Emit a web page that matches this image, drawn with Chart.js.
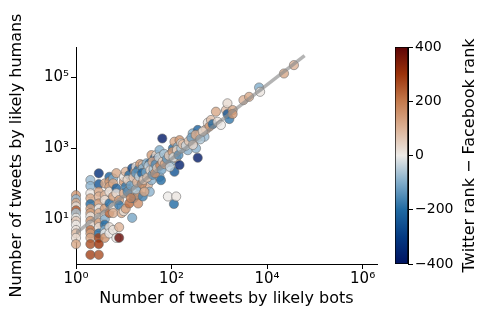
<!DOCTYPE html>
<html>
<head>
<meta charset="utf-8">
<script src="https://cdn.jsdelivr.net/npm/chart.js@4.4.0/dist/chart.umd.min.js"></script>
<style>
  body { margin: 0; background: #fff; }
  #wrap { position: relative; width: 498px; height: 332px; }
  canvas { position: absolute; top: 0; }
</style>
</head>
<body>
<div id="wrap">
  <canvas id="scatterChart" width="498" height="332" style="left:0"></canvas>
  <canvas id="colorbarChart" width="118" height="332" style="left:380px"></canvas>
</div>
<script>
// tweets per account-pair
const botTweets = [
    1, 1, 1, 1, 1, 1, 1, 1, 1, 1,
    1, 1, 1, 2, 2, 2, 2, 2, 2, 2,
    2, 2, 2, 2, 2, 2, 2, 2, 3, 3,
    3, 3, 3, 3, 3, 3, 3, 3, 3, 3,
    3, 3, 4, 4, 4, 4, 4, 4, 4, 4,
    4, 4, 5, 5, 5, 5, 5, 5, 5, 5,
    6, 6, 6, 6, 6, 6, 7, 7, 7, 7,
    8, 8, 8, 8, 9, 10, 10, 10, 10, 11,
    11, 11, 13, 13, 13, 15, 15, 15, 16, 16,
    17, 17, 18, 20, 20, 20, 20, 22, 22, 22,
    23, 25, 25, 25, 28, 28, 30, 32, 32, 35,
    35, 35, 38, 38, 38, 44, 44, 48, 48, 52,
    56, 56, 56, 60, 64, 66, 77, 84, 84, 98,
    98, 107, 112, 115, 115, 125, 125, 125, 135, 147,
    147, 159, 186, 219, 245, 277, 300, 325, 354, 354,
    380, 415, 490, 525, 575, 620, 670, 725, 850, 920,
    1080, 1380, 1480, 1480, 1620, 1900, 1900, 3200, 4200, 6800,
    7150, 22600, 36500, 12, 12, 14, 14, 16, 18, 18,
    19, 21, 24, 24, 26, 27, 29, 31, 33, 36,
    40, 40, 42, 45, 46, 50, 54, 58, 62, 65,
    70, 72, 80, 88, 92, 105, 110, 130, 140, 160,
    170, 200, 230, 260, 280, 320, 400, 450
];
const humanTweets = [
    48, 37, 29, 23, 18, 15, 11, 9, 7, 5,
    4, 3, 2, 128, 87, 54, 39, 27, 20, 15,
    12, 9, 7, 5, 4, 3, 2, 1, 198, 98,
    60, 44, 28, 20, 15, 11, 8, 6, 4, 3,
    2, 1, 103, 48, 35, 20, 13, 10, 7, 5,
    4, 3, 158, 115, 83, 60, 28, 15, 6, 4,
    142, 103, 44, 22, 15, 5, 200, 75, 54, 3,
    35, 25, 6, 3, 15, 115, 158, 54, 17, 219,
    83, 20, 177, 67, 28, 275, 127, 11, 54, 39,
    219, 103, 302, 177, 48, 28, 245, 360, 127, 83,
    245, 340, 44, 275, 158, 75, 380, 275, 93, 200,
    60, 380, 645, 340, 127, 525, 302, 645, 465, 380,
    465, 890, 158, 127, 1900, 645, 575, 415, 44, 725,
    420, 1000, 27, 1540, 219, 725, 44, 520, 1110, 1700,
    340, 1380, 1110, 890, 1380, 2650, 1700, 1000, 3300, 543,
    2130, 2650, 2130, 3430, 5300, 4100, 6300, 4800, 10800, 5600,
    4570, 12000, 18600, 9300, 6700, 12000, 9300, 22900, 28300, 52000,
    39300, 129000, 222000, 60, 130, 90, 40, 150, 70, 200,
    110, 160, 100, 200, 130, 60, 210, 150, 320, 240,
    180, 420, 260, 200, 350, 280, 560, 330, 250, 420,
    700, 360, 500, 620, 300, 800, 560, 900, 650, 1000,
    1300, 1200, 1600, 2000, 1250, 2400, 1800, 3000
];
const rankDiff = [
    150, -80, 120, 20, 250, -60, 10, 60, 0, 20,
    80, 30, 120, -80, -90, 10, 120, -200, 130, 140,
    10, 150, 10, 220, 140, 130, 260, 280, -330, -250,
    130, 100, 150, 0, 120, 20, 140, 30, -200, 280,
    300, 260, 120, 100, 20, 140, 10, -90, -200, -100,
    0, 150, -220, 150, 130, 10, -200, 230, 20, 0,
    -100, 120, 140, 20, 110, 10, 120, -220, 20, 0,
    140, -180, 100, 380, 120, 150, 10, 120, 20, 100,
    -180, 130, -200, 130, 220, -280, 150, -110, 20, -200,
    130, 20, 20, -200, 150, 160, -200, 150, 120, -180,
    -100, 80, -170, -100, 0, 10, -100, 20, 100, 130,
    -90, -200, 140, -350, -90, -200, 100, 30, -360, 10,
    120, -100, -80, -200, -380, 0, 20, -80, 0, 100,
    -90, -200, -200, 120, -250, -60, 10, 100, -100, 150,
    -360, 0, 100, -90, 10, -100, 120, -90, -220, -380,
    150, 20, -80, 100, 20, 150, 80, -200, 120, 20,
    0, 80, 30, -250, -180, 120, 150, 100, 120, -100,
    10, 120, 100, -150, 40, -120, 180, 60, -60, -140,
    90, -40, 170, -220, 50, 120, -110, 70, -40, 30,
    -130, 110, -60, 160, -150, 60, -40, 180, -110, 50,
    -70, 130, -130, 60, -40, 140, -20, 40, -150, -60,
    90, -30, 70, -120, 30, 110, -60, 40
];

// fitted trend line, end points
const fitBots = [1, 61000];
const fitHumans = [4.1, 410000];

const xTickValues = [1, 100, 10000, 1000000];
const yTickValues = [10, 1000, 100000];
const cbTicks = [-400, -200, 0, 200, 400];
const xRange = [1, 2000000];
const yRange = [0.55, 720000];
const cbRange = [-400, 400];

const xLabel = 'Number of tweets by likely bots';
const yLabel = 'Number of tweets by likely humans';
const cbLabel = 'Twitter rank \u2212 Facebook rank';

// diverging map, blue -> white -> brown (vik-like)
const vikStops = [
    [0.0, [0, 18, 97]],
    [0.125, [4, 58, 130]],
    [0.25, [32, 106, 162]],
    [0.375, [128, 172, 202]],
    [0.5, [236, 234, 231]],
    [0.625, [220, 178, 150]],
    [0.75, [196, 122, 76]],
    [0.875, [155, 50, 10]],
    [1.0, [92, 4, 6]]
];

function vikColor(t, alpha) {
    t = Math.max(0, Math.min(1, t));
    for (let i = 1; i < vikStops.length; i++) {
        if (t <= vikStops[i][0]) {
            const [t0, c0] = vikStops[i - 1];
            const [t1, c1] = vikStops[i];
            const f = (t - t0) / (t1 - t0);
            const c = c0.map((v, k) => Math.round(v + f * (c1[k] - v)));
            return `rgba(${c[0]}, ${c[1]}, ${c[2]}, ${alpha})`;
        }
    }
    return 'rgba(0,0,0,1)';
}

const SUP = {'0': '\u2070', '1': '\u00b9', '2': '\u00b2', '3': '\u00b3', '4': '\u2074', '5': '\u2075', '6': '\u2076'};
function powerLabel(value) {
    const e = Math.round(Math.log10(value));
    return '10' + String(e).split('').map(d => SUP[d]).join('');
}

Chart.defaults.font.family = "'DejaVu Sans', sans-serif";
Chart.defaults.color = '#000';

const points = botTweets.map((b, i) => ({x: b, y: humanTweets[i]}));
const pointColors = rankDiff.map(d => vikColor((d - cbRange[0]) / (cbRange[1] - cbRange[0]), 0.8));
const fitPoints = fitBots.map((b, i) => ({x: b, y: fitHumans[i]}));

const axisStyle = {
    grid: { drawOnChartArea: false, drawTicks: true, tickLength: 5, tickColor: '#000', tickWidth: 1 },
    border: { display: true, color: '#000', width: 1 }
};

new Chart(document.getElementById('scatterChart'), {
    type: 'scatter',
    data: {
        datasets: [{
            data: points,
            backgroundColor: pointColors,
            borderColor: 'rgba(100, 100, 100, 0.7)',
            borderWidth: 0.8,
            pointRadius: 4.6,
            clip: false,
            order: 1
        }, {
            type: 'line',
            data: fitPoints,
            borderColor: 'rgba(140, 140, 140, 0.65)',
            borderWidth: 3.5,
            pointRadius: 0,
            fill: false,
            order: 0
        }]
    },
    options: {
        responsive: false,
        animation: false,
        events: [],
        layout: { padding: { left: 0, right: 121, top: 47, bottom: 0 } },
        plugins: { legend: { display: false }, tooltip: { enabled: false } },
        scales: {
            x: {
                type: 'logarithmic',
                min: xRange[0],
                max: xRange[1],
                afterBuildTicks: axis => { axis.ticks = xTickValues.map(v => ({value: v})); },
                afterFit: scale => { scale.height = 68; },
                ticks: { callback: v => powerLabel(v), font: { size: 15 }, padding: 1, maxRotation: 0, autoSkip: false },
                title: { display: true, text: xLabel, font: { size: 16 }, padding: { top: 0, bottom: 24 } },
                ...axisStyle
            },
            y: {
                type: 'logarithmic',
                min: yRange[0],
                max: yRange[1],
                afterBuildTicks: axis => { axis.ticks = yTickValues.map(v => ({value: v})); },
                afterFit: scale => { scale.width = 76; },
                ticks: { callback: v => powerLabel(v), font: { size: 15 }, padding: 2, autoSkip: false },
                title: { display: true, text: yLabel, font: { size: 16 }, padding: { top: 7, bottom: 0 } },
                ...axisStyle
            }
        }
    }
});

// colorbar label reads bottom to top
const cbLabelPlugin = {
    id: 'cbLabel',
    afterDraw(chart) {
        const ctx = chart.ctx;
        const area = chart.chartArea;
        ctx.save();
        ctx.translate(90, (area.top + area.bottom) / 2);
        ctx.rotate(-Math.PI / 2);
        ctx.font = "16px 'DejaVu Sans'";
        ctx.fillStyle = '#000';
        ctx.textAlign = 'center';
        ctx.textBaseline = 'middle';
        ctx.fillText(cbLabel, 0, 0);
        ctx.restore();
    }
};

function gradientFill(context) {
    const area = context.chart.chartArea;
    if (!area) return null;
    const g = context.chart.ctx.createLinearGradient(0, area.bottom, 0, area.top);
    vikStops.forEach(([t]) => g.addColorStop(t, vikColor(t, 1)));
    return g;
}

new Chart(document.getElementById('colorbarChart'), {
    type: 'bar',
    data: {
        labels: [''],
        datasets: [{
            data: [cbRange],
            backgroundColor: gradientFill,
            borderColor: '#000',
            borderWidth: 1,
            borderSkipped: false,
            barPercentage: 1,
            categoryPercentage: 1
        }]
    },
    options: {
        responsive: false,
        animation: false,
        events: [],
        layout: { padding: { left: 15, right: 0, top: 47, bottom: 68 } },
        plugins: { legend: { display: false }, tooltip: { enabled: false } },
        scales: {
            x: { display: false },
            y: {
                position: 'right',
                min: cbRange[0],
                max: cbRange[1],
                afterBuildTicks: axis => { axis.ticks = cbTicks.map(v => ({value: v})); },
                afterFit: scale => { scale.width = 90; },
                ticks: { callback: v => String(v).replace('-', '\u2212'), font: { size: 14 }, padding: 2 },
                ...axisStyle
            }
        }
    },
    plugins: [cbLabelPlugin]
});
</script>
</body>
</html>
